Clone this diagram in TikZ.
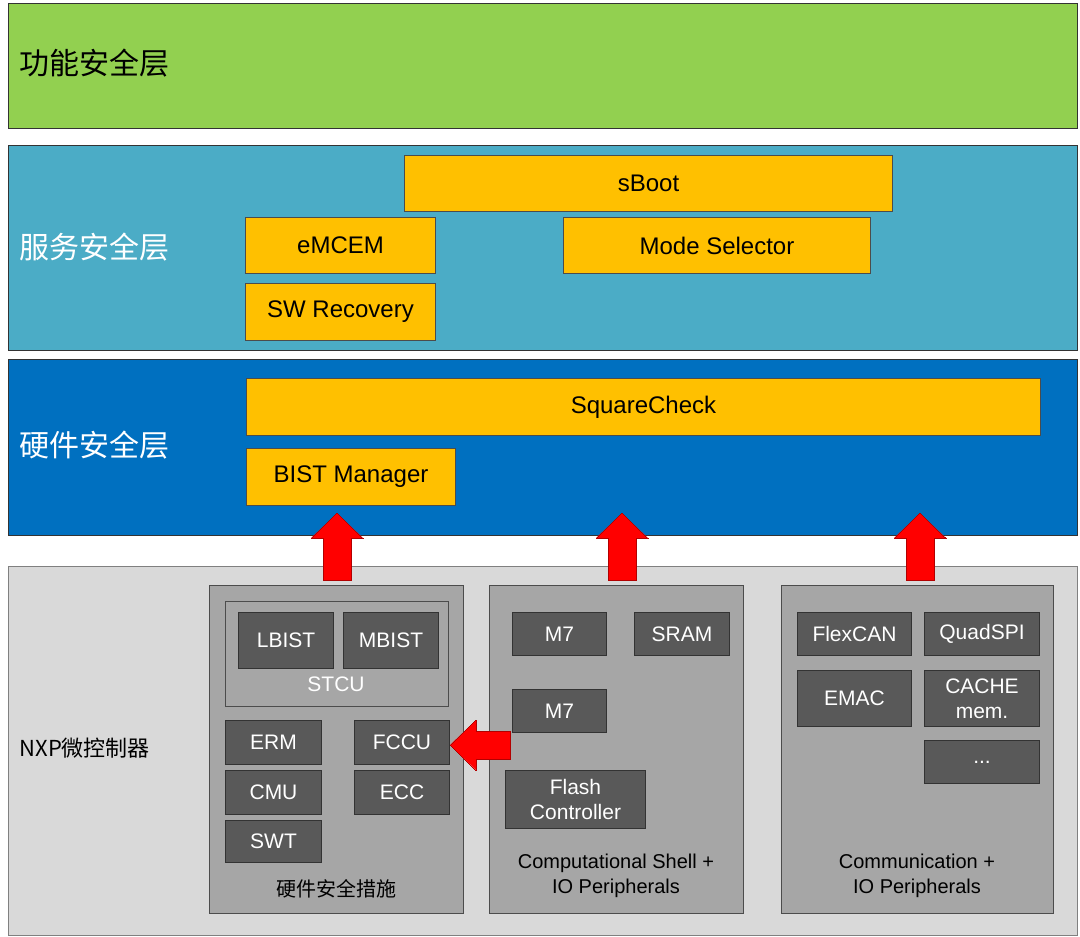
\documentclass[tikz,border=0pt]{standalone}
\usepackage{fontspec}
\setmainfont{Liberation Sans}
\newfontfamily\cjk{Noto Sans CJK SC}
\usetikzlibrary{arrows.meta}
\definecolor{funcgreen}{HTML}{92D050}
\definecolor{svcblue}{HTML}{4BACC6}
\definecolor{hwblue}{HTML}{0070C0}
\definecolor{boxorange}{HTML}{FFC000}
\definecolor{mculight}{HTML}{D9D9D9}
\definecolor{groupgray}{HTML}{A6A6A6}
\definecolor{partdark}{HTML}{595959}
\tikzset{
  layer/.style={draw=black!80, line width=1pt, anchor=north west, inner sep=0pt},
  sw/.style={draw=black!70, fill=boxorange, line width=1pt, anchor=north west, inner sep=0pt,
    font=\fontsize{24}{28}\selectfont},
  group/.style={draw=black!70, fill=groupgray, line width=1pt, anchor=north west, inner sep=0pt},
  part/.style={draw=black!80, fill=partdark, text=white, line width=1pt, anchor=north west,
    inner sep=0pt, align=center, font=\fontsize{21}{25}\selectfont},
  ttl/.style={anchor=west, font=\cjk\fontsize{30}{34}\selectfont},
  grpcap/.style={align=center, font=\fontsize{20}{25}\selectfont},
  up/.style={draw=red!70!black, fill=red, line width=0pt},
}
\newcommand{\bigup}[2]{% x, y of tip
  \filldraw[up] (#1-14,#2+67) -- (#1-14,#2+25) -- (#1-26,#2+25) -- (#1,#2) -- (#1+26,#2+25)
    -- (#1+14,#2+25) -- (#1+14,#2+67) -- cycle;}
\begin{document}
\begin{tikzpicture}[x=1pt,y=-1pt]
\useasboundingbox (0,0) rectangle (1080,937);
% layers
\node[layer, fill=funcgreen, minimum width=1069, minimum height=125] (func) at (8,3) {};
\node[ttl] at (16,63) {功能安全层};
\node[layer, fill=svcblue, minimum width=1069, minimum height=205] (svc) at (8,145) {};
\node[ttl, text=white] at (16,247) {服务安全层};
\node[layer, fill=hwblue, minimum width=1069, minimum height=176] (hw) at (8,359) {};
\node[ttl, text=white] at (16,445) {硬件安全层};
\node[layer, draw=black!50, fill=mculight, minimum width=1069, minimum height=369] (mcu) at (8,566) {};
\node[anchor=west, font=\cjk\fontsize{22}{26}\selectfont] at (16,748) {NXP微控制器};
% software boxes
\node[sw, minimum width=488, minimum height=56] (sboot) at (404,155) {};
\node at (sboot.center) [font=\fontsize{24}{28}\selectfont] {sBoot};
\node[sw, minimum width=190, minimum height=56] (emcem) at (245,217) {};
\node at (emcem.center) [font=\fontsize{24}{28}\selectfont] {eMCEM};
\node[sw, minimum width=307, minimum height=56] (mode) at (563,217) {};
\node at (mode.center) [font=\fontsize{24}{28}\selectfont] {Mode Selector};
\node[sw, minimum width=190, minimum height=57] (swrec) at (245,283) {};
\node at (swrec.center) [font=\fontsize{24}{28}\selectfont] {SW Recovery};
\node[sw, minimum width=794, minimum height=57] (sqc) at (246,378) {};
\node at (sqc.center) [font=\fontsize{24}{28}\selectfont] {SquareCheck};
\node[sw, minimum width=209, minimum height=57] (bist) at (246,448) {};
\node at (bist.center) [font=\fontsize{24}{28}\selectfont] {BIST Manager};
% hardware groups
\node[group, minimum width=254, minimum height=328] (safety) at (209,585) {};
\node[group, minimum width=254, minimum height=328] (comp) at (489,585) {};
\node[group, minimum width=272, minimum height=328] (comm) at (781,585) {};
\node[group, minimum width=223, minimum height=105] (stcu) at (225,601) {};
\node[font=\fontsize{21}{25}\selectfont, text=white] at (336,684) {STCU};
\node[part, minimum width=95, minimum height=56] (lbist) at (238,612) {LBIST};
\node[part, minimum width=95, minimum height=56] (mbist) at (343,612) {MBIST};
\node[part, minimum width=96, minimum height=44] (erm) at (225,720) {ERM};
\node[part, minimum width=95, minimum height=44] (fccu) at (354,720) {FCCU};
\node[part, minimum width=96, minimum height=44] (cmu) at (225,770) {CMU};
\node[part, minimum width=95, minimum height=44] (ecc) at (354,770) {ECC};
\node[part, minimum width=96, minimum height=42] (swt) at (225,820) {SWT};
\node[font=\cjk\fontsize{20}{24}\selectfont] at (336,889) {硬件安全措施};
\node[part, minimum width=94, minimum height=43] (ma) at (512,612) {M7};
\node[part, minimum width=95, minimum height=43] (sram) at (634,612) {SRAM};
\node[part, minimum width=94, minimum height=43] (mb) at (512,689) {M7};
\node[part, minimum width=140, minimum height=58] (flash) at (505,770) {Flash\\Controller};
\node[grpcap] at (616,876) {Computational Shell +\\IO Peripherals};
\node[part, minimum width=114, minimum height=43] (flexcan) at (797,612) {FlexCAN};
\node[part, minimum width=115, minimum height=43] (qspi) at (924,612) {QuadSPI};
\node[part, minimum width=114, minimum height=56] (emac) at (797,670) {EMAC};
\node[part, minimum width=115, minimum height=56] (cache) at (924,670) {CACHE\\mem.};
\node[part, minimum width=115, minimum height=43] (more) at (924,740) {...};
\node[grpcap] at (917,876) {Communication +\\IO Peripherals};
% arrows
\bigup{337}{513}
\bigup{622}{513}
\bigup{920}{513}
\filldraw[up] (510,731) -- (476,731) -- (476,720) -- (450,745) -- (476,770) -- (476,759)
  -- (510,759) -- cycle;
\end{tikzpicture}
\end{document}
